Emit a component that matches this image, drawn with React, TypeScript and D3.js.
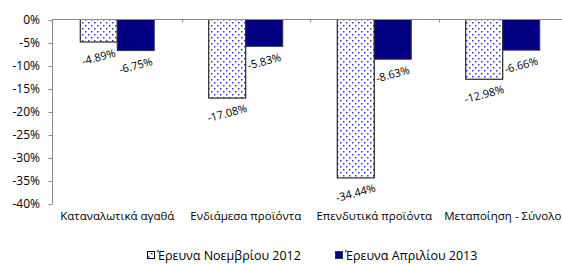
import { useEffect, useRef } from 'react';
import * as d3 from 'd3';

const CATEGORIES = ['Καταναλωτικά αγαθά', 'Ενδιάμεσα προϊόντα', 'Επενδυτικά προϊόντα', 'Μεταποίηση - Σύνολο'];
const NOV_2012 = [-4.89, -17.08, -34.44, -12.98];
const APR_2013 = [-6.75, -5.83, -8.63, -6.66];
const SERIES_NAMES = ['Έρευνα Νοεμβρίου 2012', 'Έρευνα Απριλίου 2013'];
const Y_TICKS = [0, -5, -10, -15, -20, -25, -30, -35, -40];

const W = 562;
const H = 265;
const FONT = '"Open Sans", "DejaVu Sans", sans-serif';

export default function App() {
  const svgRef = useRef<SVGSVGElement>(null);

  useEffect(() => {
    if (!svgRef.current) return;
    const svg = d3.select(svgRef.current);
    svg.selectAll('*').remove();

    const defs = svg.append('defs');
    const pat = defs
      .append('pattern')
      .attr('id', 'dots')
      .attr('patternUnits', 'userSpaceOnUse')
      .attr('width', 6)
      .attr('height', 6);
    pat.append('rect').attr('width', 6).attr('height', 6).attr('fill', '#ffffff');
    pat.append('rect').attr('x', 1).attr('y', 1).attr('width', 1.5).attr('height', 1.5).attr('fill', '#3535cc');
    pat.append('rect').attr('x', 4).attr('y', 4).attr('width', 1.5).attr('height', 1.5).attr('fill', '#3535cc');

    const y = d3.scaleLinear().domain([0, -40]).range([19.5, 203.5]);
    const x = d3.scaleBand().domain(CATEGORIES).range([53, 567]);
    const sub = d3.scaleBand().domain(['a', 'b']).range([0, 74]);
    const groupOffset = (x.bandwidth() - 74) / 2;

    // y axis
    const yAxis = svg.append('g');
    yAxis
      .append('line')
      .attr('x1', 52.5)
      .attr('x2', 52.5)
      .attr('y1', y(0))
      .attr('y2', y(-40))
      .attr('stroke', '#888888');
    Y_TICKS.forEach(t => {
      yAxis
        .append('line')
        .attr('x1', 48.5)
        .attr('x2', 52.5)
        .attr('y1', Math.round(y(t)) + 0.5)
        .attr('y2', Math.round(y(t)) + 0.5)
        .attr('stroke', '#888888');
      yAxis
        .append('text')
        .attr('x', 40)
        .attr('y', y(t))
        .attr('dy', '0.35em')
        .attr('text-anchor', 'end')
        .attr('font-size', '12px')
        .attr('font-family', FONT)
        .attr('fill', '#000')
        .text(`${t}%`);
    });

    // bars
    const series = [
      { key: 'a', values: NOV_2012, fill: 'url(#dots)', stroke: '#000000' },
      { key: 'b', values: APR_2013, fill: '#000080', stroke: '#333333' },
    ];
    series.forEach(s => {
      s.values.forEach((v, i) => {
        const bx = (x(CATEGORIES[i]) ?? 0) + groupOffset + (sub(s.key) ?? 0);
        svg
          .append('rect')
          .attr('x', bx)
          .attr('y', y(0))
          .attr('width', sub.bandwidth())
          .attr('height', y(v) - y(0))
          .attr('fill', s.fill)
          .attr('stroke', s.stroke)
          .attr('stroke-width', 1);
        const cx = bx + sub.bandwidth() / 2;
        const cy = y(v) + 15;
        svg
          .append('text')
          .attr('transform', `translate(${cx},${cy}) rotate(-15)`)
          .attr('text-anchor', 'middle')
          .attr('dy', '0.35em')
          .attr('font-size', '11px')
          .attr('font-family', FONT)
          .attr('fill', '#000')
          .text(`${v.toFixed(2)}%`);
      });
    });

    // x axis on top (zero line)
    svg
      .append('line')
      .attr('x1', 52.5)
      .attr('x2', W)
      .attr('y1', 19.5)
      .attr('y2', 19.5)
      .attr('stroke', '#888888');
    CATEGORIES.forEach((c, i) => {
      if (i > 0) {
        const tx = Math.round(x(c) ?? 0) + 0.5;
        svg
          .append('line')
          .attr('x1', tx)
          .attr('x2', tx)
          .attr('y1', 19.5)
          .attr('y2', 22.5)
          .attr('stroke', '#888888');
      }
      svg
        .append('text')
        .attr('x', (x(c) ?? 0) + x.bandwidth() / 2)
        .attr('y', 216)
        .attr('dy', '0.35em')
        .attr('text-anchor', 'middle')
        .attr('font-size', '11.5px')
        .attr('font-family', FONT)
        .attr('fill', '#000')
        .text(c);
    });

    // legend
    const legendX = [147, 335];
    SERIES_NAMES.forEach((name, i) => {
      svg
        .append('rect')
        .attr('x', legendX[i] + 0.5)
        .attr('y', 251.5)
        .attr('width', 7)
        .attr('height', 7)
        .attr('fill', series[i].fill)
        .attr('stroke', series[i].stroke);
      svg
        .append('text')
        .attr('x', legendX[i] + 10)
        .attr('y', 255.5)
        .attr('dy', '0.35em')
        .attr('font-size', '12.5px')
        .attr('font-family', FONT)
        .attr('fill', '#000')
        .text(name);
    });
  }, []);

  return (
    <svg
      ref={svgRef}
      width={W}
      height={H}
      style={{ position: 'absolute', left: 0, top: 0, background: '#ffffff', display: 'block' }}
    />
  );
}
